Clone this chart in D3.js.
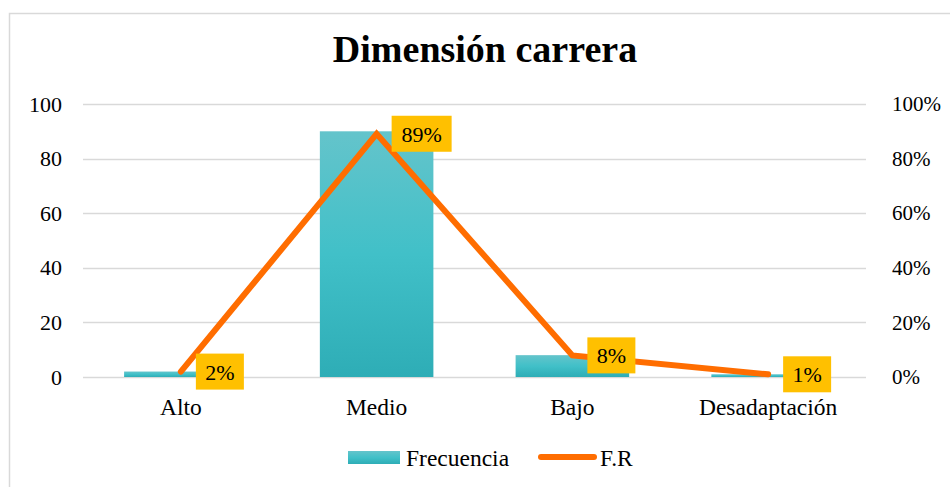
<!DOCTYPE html>
<html>
<head>
<meta charset="utf-8">
<script src="https://cdn.jsdelivr.net/npm/d3@7"></script>
<style>
  body { margin: 0; background: #fff; }
  svg text { font-family: "Liberation Serif", "Times New Roman", serif; fill: #000; }
</style>
</head>
<body>
<div id="chart"></div>
<script>
// data
const categories = ["Alto", "Medio", "Bajo", "Desadaptación"];
const frecuencia = [2, 90, 8, 1];
const fr = [0.0198, 0.891, 0.0792, 0.0099];
const frLabels = ["2%", "89%", "8%", "1%"];
const leftTicks = [0, 20, 40, 60, 80, 100];
const rightTicks = [0, 0.2, 0.4, 0.6, 0.8, 1];

const width = 950, height = 487;
const margin = { top: 104, right: 84, bottom: 110, left: 83 };

const svg = d3.select("#chart").append("svg")
    .attr("width", width)
    .attr("height", height);

// bar gradient
const grad = svg.append("defs").append("linearGradient")
    .attr("id", "barGrad")
    .attr("x1", 0).attr("y1", 0).attr("x2", 0).attr("y2", 1);
grad.append("stop").attr("offset", "0%").attr("stop-color", "#64c4cb");
grad.append("stop").attr("offset", "50%").attr("stop-color", "#41c0c8");
grad.append("stop").attr("offset", "100%").attr("stop-color", "#2eadb6");

// outer chart border
svg.append("rect")
    .attr("x", 9.5).attr("y", 13.5)
    .attr("width", width).attr("height", height)
    .attr("fill", "none")
    .attr("stroke", "#d9d9d9")
    .attr("stroke-width", 1.5);

// title
svg.append("text")
    .attr("x", 485).attr("y", 62)
    .attr("text-anchor", "middle")
    .style("font-size", "38px")
    .style("font-weight", "bold")
    .text("Dimensión carrera");

const x = d3.scaleBand()
    .domain(categories)
    .range([margin.left, width - margin.right])
    .paddingInner(0.42)
    .paddingOuter(0.21);

const y = d3.scaleLinear()
    .domain([0, 100])
    .range([height - margin.bottom, margin.top]);

const y2 = d3.scaleLinear()
    .domain([0, 1])
    .range([height - margin.bottom, margin.top]);

const cx = d => x(d) + x.bandwidth() / 2;

// gridlines
svg.append("g")
    .attr("stroke", "#d9d9d9")
    .attr("stroke-width", 1.3)
    .selectAll("line")
    .data(leftTicks)
    .join("line")
    .attr("x1", margin.left)
    .attr("x2", width - margin.right)
    .attr("y1", d => Math.round(y(d)) + 0.5)
    .attr("y2", d => Math.round(y(d)) + 0.5);

// left axis
const leftAxis = svg.append("g")
    .attr("transform", `translate(${margin.left},0)`)
    .call(d3.axisLeft(y).tickValues(leftTicks).tickSize(0).tickPadding(21));
leftAxis.attr("font-family", null);
leftAxis.select(".domain").remove();
leftAxis.selectAll("text").style("font-size", "22px");

// right axis
const rightAxis = svg.append("g")
    .attr("transform", `translate(${width - margin.right},0)`)
    .call(d3.axisRight(y2).tickValues(rightTicks).tickFormat(d3.format(".0%")).tickSize(0).tickPadding(26));
rightAxis.attr("font-family", null);
rightAxis.select(".domain").remove();
rightAxis.selectAll("text").style("font-size", "21px");

// x axis labels
const xAxis = svg.append("g")
    .attr("transform", `translate(0,${height - margin.bottom})`)
    .call(d3.axisBottom(x).tickSize(0).tickPadding(21));
xAxis.attr("font-family", null);
xAxis.select(".domain").remove();
xAxis.selectAll("text").style("font-size", "23.5px");

// bars
svg.append("g")
    .selectAll("rect")
    .data(categories)
    .join("rect")
    .attr("x", d => x(d))
    .attr("width", x.bandwidth())
    .attr("y", (d, i) => y(frecuencia[i]))
    .attr("height", (d, i) => y(0) - y(frecuencia[i]))
    .attr("fill", "url(#barGrad)");

// F.R line
const line = d3.line()
    .x((d, i) => cx(categories[i]))
    .y(d => y2(d));

svg.append("path")
    .datum(fr)
    .attr("d", line)
    .attr("fill", "none")
    .attr("stroke", "#ff6d00")
    .attr("stroke-width", 6)
    .attr("stroke-linejoin", "miter")
    .attr("stroke-linecap", "round");

// data labels
const boxW = (d, i) => frLabels[i].length > 2 ? 60 : 48;

const lab = svg.append("g")
    .selectAll("g")
    .data(fr)
    .join("g")
    .attr("transform", (d, i) => `translate(${cx(categories[i]) + 15},${y2(d)})`);

lab.append("rect")
    .attr("x", 0)
    .attr("y", -18)
    .attr("width", boxW)
    .attr("height", 36)
    .attr("fill", "#ffc000");

lab.append("text")
    .attr("x", (d, i) => boxW(d, i) / 2)
    .attr("y", 8)
    .attr("text-anchor", "middle")
    .style("font-size", "22px")
    .text((d, i) => frLabels[i]);

// legend
const legend = svg.append("g");
legend.append("rect")
    .attr("x", 348).attr("y", 451)
    .attr("width", 52).attr("height", 13)
    .attr("fill", "url(#barGrad)");
legend.append("text")
    .attr("x", 406).attr("y", 466)
    .style("font-size", "23.5px")
    .text("Frecuencia");
legend.append("line")
    .attr("x1", 541).attr("x2", 594)
    .attr("y1", 457).attr("y2", 457)
    .attr("stroke", "#ff6d00")
    .attr("stroke-width", 6)
    .attr("stroke-linecap", "round");
legend.append("text")
    .attr("x", 600).attr("y", 466)
    .style("font-size", "23.5px")
    .text("F.R");
</script>
</body>
</html>
